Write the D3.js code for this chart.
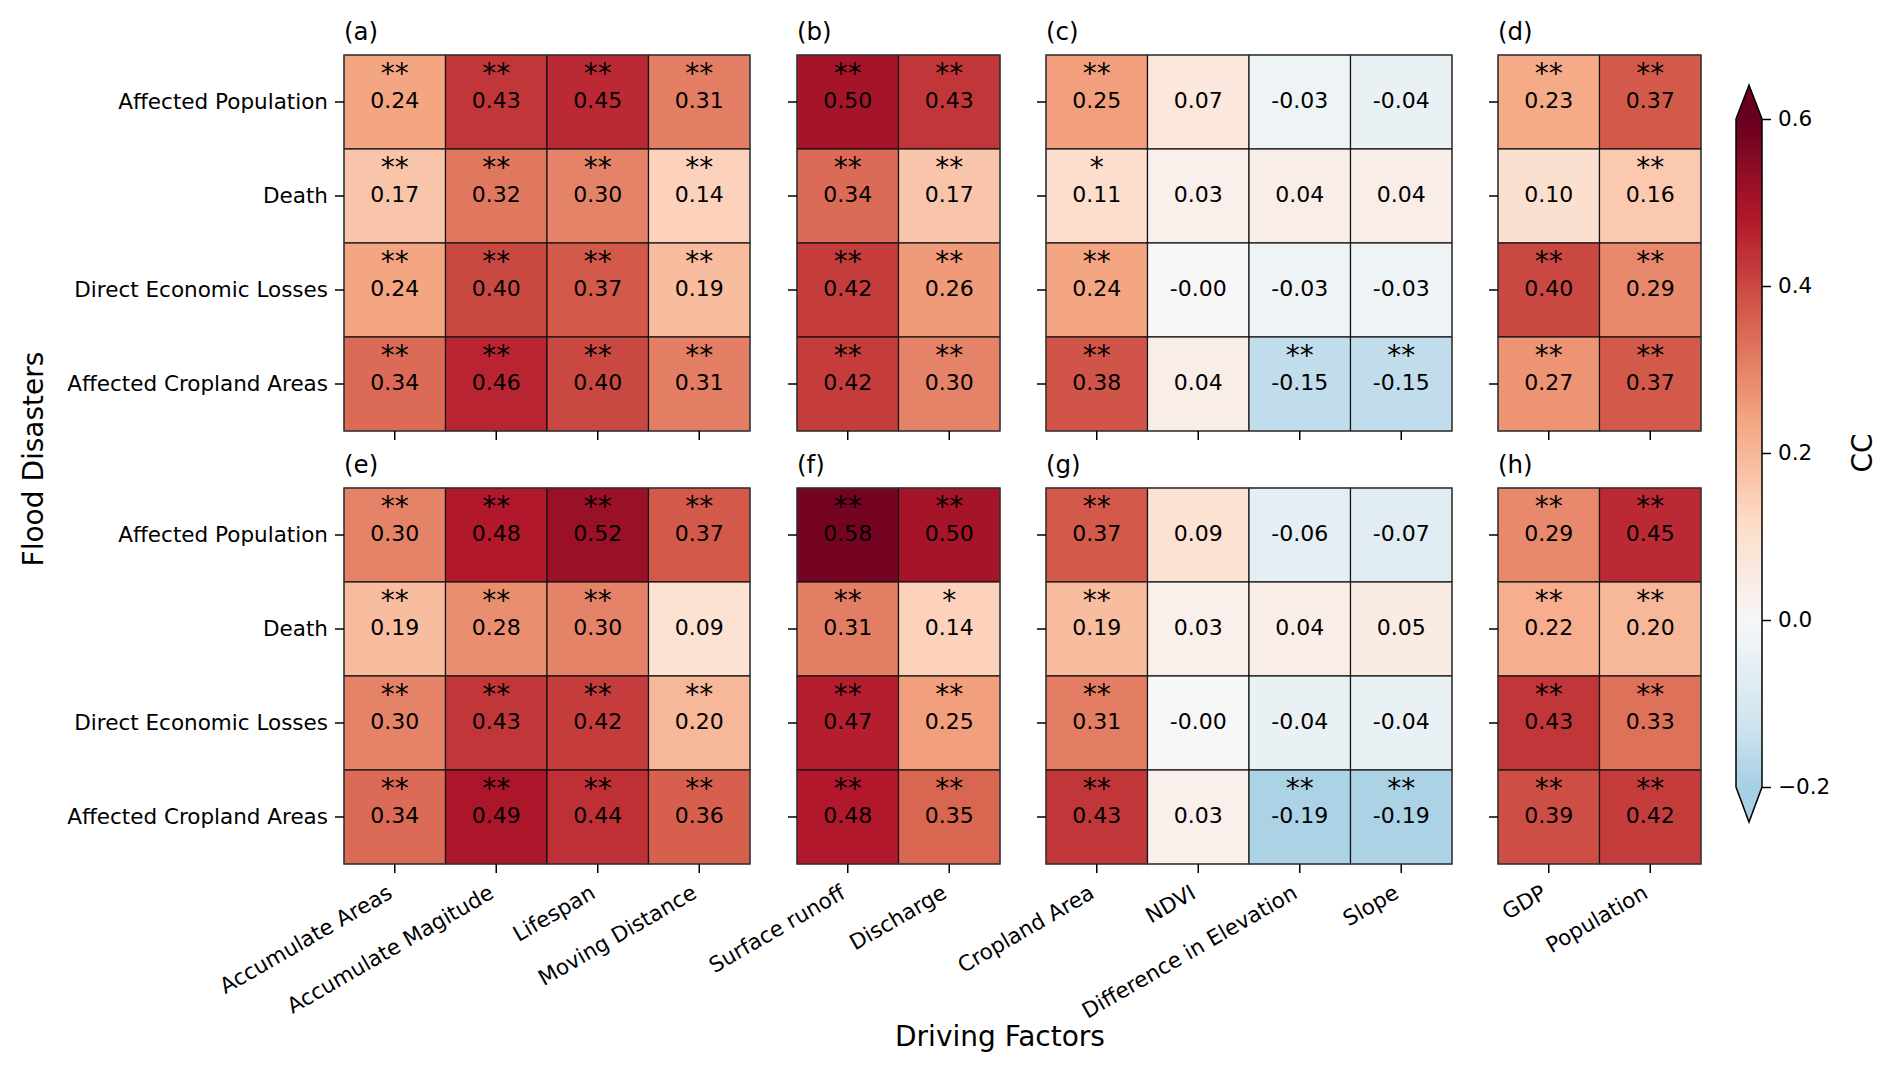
<!DOCTYPE html>
<html>
<head>
<meta charset="utf-8">
<script src="https://cdn.jsdelivr.net/npm/d3@7"></script>
<style>
body { margin: 0; background: #fff; }
svg text { font-family: "DejaVu Sans", sans-serif; fill: #000; }
</style>
</head>
<body>
<svg id="chart" width="1892" height="1072"></svg>
<script>
// rows of every panel
var disasters = ["Affected Population", "Death", "Direct Economic Losses", "Affected Cropland Areas"];

// columns of each group
var factorsA = ["Accumulate Areas", "Accumulate Magitude", "Lifespan", "Moving Distance"];
var factorsB = ["Surface runoff", "Discharge"];
var factorsC = ["Cropland Area", "NDVI", "Difference in Elevation", "Slope"];
var factorsD = ["GDP", "Population"];

// correlation values, one row per disaster
var valuesA = [[0.24, 0.43, 0.45, 0.31], [0.17, 0.32, 0.30, 0.14], [0.24, 0.40, 0.37, 0.19], [0.34, 0.46, 0.40, 0.31]];
var valuesB = [[0.50, 0.43], [0.34, 0.17], [0.42, 0.26], [0.42, 0.30]];
var valuesC = [[0.25, 0.07, -0.03, -0.04], [0.11, 0.03, 0.04, 0.04], [0.24, -0.001, -0.03, -0.03], [0.38, 0.04, -0.15, -0.15]];
var valuesD = [[0.23, 0.37], [0.10, 0.16], [0.40, 0.29], [0.27, 0.37]];
var valuesE = [[0.30, 0.48, 0.52, 0.37], [0.19, 0.28, 0.30, 0.09], [0.30, 0.43, 0.42, 0.20], [0.34, 0.49, 0.44, 0.36]];
var valuesF = [[0.58, 0.50], [0.31, 0.14], [0.47, 0.25], [0.48, 0.35]];
var valuesG = [[0.37, 0.09, -0.06, -0.07], [0.19, 0.03, 0.04, 0.05], [0.31, -0.001, -0.04, -0.04], [0.43, 0.03, -0.19, -0.19]];
var valuesH = [[0.29, 0.45], [0.22, 0.20], [0.43, 0.33], [0.39, 0.42]];

// significance marks
var sigA = [["**", "**", "**", "**"], ["**", "**", "**", "**"], ["**", "**", "**", "**"], ["**", "**", "**", "**"]];
var sigB = [["**", "**"], ["**", "**"], ["**", "**"], ["**", "**"]];
var sigC = [["**", "", "", ""], ["*", "", "", ""], ["**", "", "", ""], ["**", "", "**", "**"]];
var sigD = [["**", "**"], ["", "**"], ["**", "**"], ["**", "**"]];
var sigE = [["**", "**", "**", "**"], ["**", "**", "**", ""], ["**", "**", "**", "**"], ["**", "**", "**", "**"]];
var sigF = [["**", "**"], ["**", "*"], ["**", "**"], ["**", "**"]];
var sigG = [["**", "", "", ""], ["**", "", "", ""], ["**", "", "", ""], ["**", "", "**", "**"]];
var sigH = [["**", "**"], ["**", "**"], ["**", "**"], ["**", "**"]];

var cbTicks = [-0.2, 0.0, 0.2, 0.4, 0.6];

// matplotlib RdBu_r, centred on zero, spanning -0.6..0.6
var rdbuR = ["#053061", "#2166ac", "#4393c3", "#92c5de", "#d1e5f0", "#f7f7f7",
             "#fddbc7", "#f4a582", "#d6604d", "#b2182b", "#67001f"];
var color = d3.scaleLinear()
    .domain(d3.range(11).map(function(i){ return -0.6 + i * 0.12; }))
    .range(rdbuR)
    .interpolate(d3.interpolateRgb)
    .clamp(true);

var svg = d3.select("#chart");

var cellW = 101.5, cellH = 94;
var colX = [344, 797, 1046, 1498];
var rowY = [55, 488];

var panels = [
  {tag: "(a)", f: factorsA, v: valuesA, s: sigA, c: 0, r: 0},
  {tag: "(b)", f: factorsB, v: valuesB, s: sigB, c: 1, r: 0},
  {tag: "(c)", f: factorsC, v: valuesC, s: sigC, c: 2, r: 0},
  {tag: "(d)", f: factorsD, v: valuesD, s: sigD, c: 3, r: 0},
  {tag: "(e)", f: factorsA, v: valuesE, s: sigE, c: 0, r: 1},
  {tag: "(f)", f: factorsB, v: valuesF, s: sigF, c: 1, r: 1},
  {tag: "(g)", f: factorsC, v: valuesG, s: sigG, c: 2, r: 1},
  {tag: "(h)", f: factorsD, v: valuesH, s: sigH, c: 3, r: 1}
];

panels.forEach(function(p){
  var x0 = colX[p.c], y0 = rowY[p.r];
  var x = d3.scaleBand().domain(p.f).range([x0, x0 + p.f.length * cellW]);
  var y = d3.scaleBand().domain(disasters).range([y0, y0 + disasters.length * cellH]);

  var cells = [];
  disasters.forEach(function(d, i){
    p.f.forEach(function(f, j){
      cells.push({row: d, col: f, v: p.v[i][j], s: p.s[i][j]});
    });
  });

  var g = svg.append("g");

  g.selectAll("rect.cell")
    .data(cells)
    .enter().append("rect")
    .attr("class", "cell")
    .attr("x", function(d){ return x(d.col); })
    .attr("y", function(d){ return y(d.row); })
    .attr("width", x.bandwidth())
    .attr("height", y.bandwidth())
    .attr("fill", function(d){ return color(d.v); })
    .attr("stroke", "#111")
    .attr("stroke-width", 1.2);

  g.append("rect")
    .attr("x", x0).attr("y", y0)
    .attr("width", p.f.length * cellW).attr("height", disasters.length * cellH)
    .attr("fill", "none").attr("stroke", "#444").attr("stroke-width", 1);

  g.selectAll("text.val")
    .data(cells)
    .enter().append("text")
    .attr("class", "val")
    .attr("x", function(d){ return x(d.col) + x.bandwidth() / 2; })
    .attr("y", function(d){ return y(d.row) + y.bandwidth() / 2 + 6; })
    .attr("text-anchor", "middle")
    .attr("font-size", "22px")
    .text(function(d){ return d.v.toFixed(2); });

  g.selectAll("text.sig")
    .data(cells)
    .enter().append("text")
    .attr("class", "sig")
    .attr("x", function(d){ return x(d.col) + x.bandwidth() / 2; })
    .attr("y", function(d){ return y(d.row) + 28; })
    .attr("text-anchor", "middle")
    .attr("font-size", "28px")
    .text(function(d){ return d.s; });

  // panel tag
  g.append("text")
    .attr("x", x0).attr("y", y0 - 15)
    .attr("font-size", "24.5px")
    .text(p.tag);

  // y axis
  var ya = g.append("g")
    .attr("transform", "translate(" + x0 + ",0)")
    .call(d3.axisLeft(y).tickSize(9).tickPadding(7)
      .tickFormat(p.c === 0 ? null : function(){ return ""; }));
  ya.select(".domain").remove();
  ya.selectAll("line").attr("stroke-width", 1.5);
  ya.selectAll("text").attr("font-size", "21.5px").attr("font-family", "DejaVu Sans");

  // x axis
  var xa = g.append("g")
    .attr("transform", "translate(0," + (y0 + disasters.length * cellH) + ")")
    .call(d3.axisBottom(x).tickSize(9)
      .tickFormat(p.r === 1 ? null : function(){ return ""; }));
  xa.select(".domain").remove();
  xa.selectAll("line").attr("stroke-width", 1.5);
  xa.selectAll("text")
    .attr("font-size", "21.5px")
    .attr("font-family", "DejaVu Sans")
    .attr("text-anchor", "end")
    .attr("x", 0).attr("y", 0).attr("dy", null)
    .attr("transform", "translate(-1,33) rotate(-30)");
});

// colour bar
var cbX = 1736, cbW = 26;
var cbScale = d3.scaleLinear().domain([-0.2, 0.6]).range([787, 119]);

var defs = svg.append("defs");
var grad = defs.append("linearGradient")
  .attr("id", "cbgrad")
  .attr("x1", 0).attr("y1", 1).attr("x2", 0).attr("y2", 0);
d3.range(0, 41).forEach(function(i){
  var v = -0.2 + i * 0.02;
  grad.append("stop")
    .attr("offset", (i / 40 * 100) + "%")
    .attr("stop-color", color(v));
});

svg.append("rect")
  .attr("x", cbX).attr("y", cbScale(0.6))
  .attr("width", cbW).attr("height", cbScale(-0.2) - cbScale(0.6))
  .attr("fill", "url(#cbgrad)");

svg.append("path")
  .attr("d", "M" + cbX + "," + cbScale(0.6) + "L" + (cbX + cbW / 2) + "," + (cbScale(0.6) - 34) + "L" + (cbX + cbW) + "," + cbScale(0.6) + "Z")
  .attr("fill", color(0.6));
svg.append("path")
  .attr("d", "M" + cbX + "," + cbScale(-0.2) + "L" + (cbX + cbW / 2) + "," + (cbScale(-0.2) + 35) + "L" + (cbX + cbW) + "," + cbScale(-0.2) + "Z")
  .attr("fill", color(-0.2));

svg.append("path")
  .attr("d", "M" + cbX + "," + cbScale(0.6) +
             "L" + (cbX + cbW / 2) + "," + (cbScale(0.6) - 34) +
             "L" + (cbX + cbW) + "," + cbScale(0.6) +
             "L" + (cbX + cbW) + "," + cbScale(-0.2) +
             "L" + (cbX + cbW / 2) + "," + (cbScale(-0.2) + 35) +
             "L" + cbX + "," + cbScale(-0.2) + "Z")
  .attr("fill", "none").attr("stroke", "#000").attr("stroke-width", 1.5);

var cba = svg.append("g")
  .attr("transform", "translate(" + (cbX + cbW) + ",0)")
  .call(d3.axisRight(cbScale).tickValues(cbTicks).tickFormat(d3.format(".1f")).tickSize(9).tickPadding(7));
cba.select(".domain").remove();
cba.selectAll("line").attr("stroke-width", 1.5);
cba.selectAll("text").attr("font-size", "21.5px").attr("font-family", "DejaVu Sans");

svg.append("text")
  .attr("transform", "translate(1872,453) rotate(-90)")
  .attr("text-anchor", "middle")
  .attr("font-size", "28px")
  .text("CC");

svg.append("text")
  .attr("transform", "translate(43,459) rotate(-90)")
  .attr("text-anchor", "middle")
  .attr("font-size", "28px")
  .text("Flood Disasters");

svg.append("text")
  .attr("x", 1000).attr("y", 1046)
  .attr("text-anchor", "middle")
  .attr("font-size", "28px")
  .text("Driving Factors");
</script>
</body>
</html>
